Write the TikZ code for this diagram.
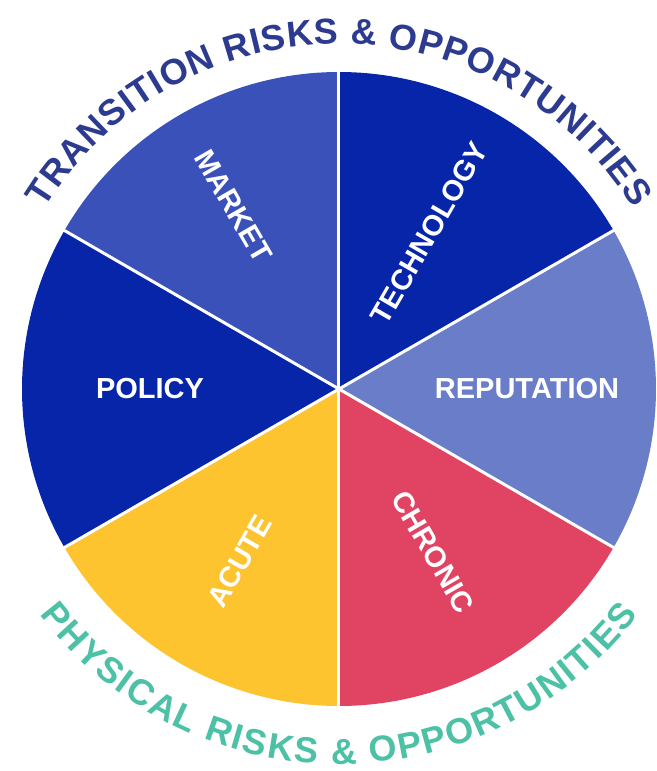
\documentclass[tikz,border=0pt]{standalone}
\usepackage{fontspec}
\setmainfont{Liberation Sans}
\newfontfamily\labfont{Liberation Sans Bold}
\newfontfamily\arcfam{Liberation Sans Bold}
\usetikzlibrary{decorations.text}
\definecolor{cMarket}{HTML}{3A51B9}
\definecolor{cDark}{HTML}{0625A8}
\definecolor{cRep}{HTML}{6A7DC9}
\definecolor{cChronic}{HTML}{E14462}
\definecolor{cAcute}{HTML}{FEC42F}
\definecolor{cTop}{HTML}{2C3B8F}
\definecolor{cBottom}{HTML}{4CC1A6}
\newcommand\arcfont{\arcfam\fontsize{36}{38}\selectfont}
\begin{document}
\begin{tikzpicture}[x=1pt,y=1pt,
  lab/.style={text=white, font=\labfont\fontsize{29}{32}\selectfont, inner sep=0pt},
  sep/.style={white, line width=3pt}]
\useasboundingbox (-339,-382) rectangle (317,389);
\def\R{317}
\coordinate (O) at (0,0);
\fill[cDark]    (O) -- (30:\R)  arc[start angle=30,  end angle=90,  radius=\R] -- cycle;
\fill[cMarket]  (O) -- (90:\R)  arc[start angle=90,  end angle=150, radius=\R] -- cycle;
\fill[cDark]    (O) -- (150:\R) arc[start angle=150, end angle=210, radius=\R] -- cycle;
\fill[cAcute]   (O) -- (210:\R) arc[start angle=210, end angle=270, radius=\R] -- cycle;
\fill[cChronic] (O) -- (270:\R) arc[start angle=270, end angle=330, radius=\R] -- cycle;
\fill[cRep]     (O) -- (330:\R) arc[start angle=330, end angle=390, radius=\R] -- cycle;
\foreach \a in {30,90,150,210,270,330}{
  \coordinate (b\a) at (\a:322);
  \draw[sep] (O) -- (b\a);
}
\node[lab, rotate=-60] (market) at (120:211) {MARKET};
\node[lab, rotate=60]  (tech)   at (60:180)  {TECHNOLOGY};
\node[lab]             (rep)    at (0:188)   {REPUTATION};
\node[lab]             (policy) at (180:189) {POLICY};
\node[lab, rotate=60]  (acute)  at (240:199) {ACUTE};
\node[lab, rotate=-60] (chronic) at (300:188) {CHRONIC};
\path[decorate, decoration={text along path, text align={fit to path}, text color=cTop,
  text={|\arcfont|TRANSITION RISKS {\&} OPPORTUNITIES}}]
  (148.5:345) arc[start angle=148.5, end angle=31.5, radius=345];
\path[decorate, decoration={text along path, text align={fit to path}, text color=cBottom,
  text={|\arcfont|PHYSICAL RISKS {\&} OPPORTUNITIES}}]
  (217:375) arc[start angle=217, end angle=323, radius=375];
\end{tikzpicture}
\end{document}
